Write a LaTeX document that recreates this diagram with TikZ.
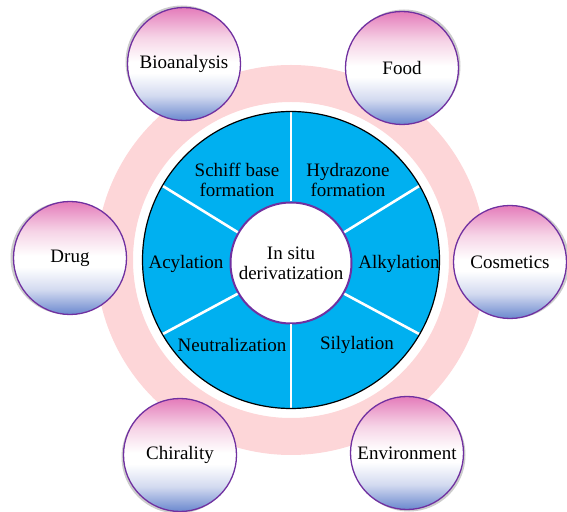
\documentclass[tikz,border=0pt]{standalone}
\usepackage{fontspec}
\setmainfont{Liberation Serif}
\usetikzlibrary{positioning, shadows}
\definecolor{ringpink}{HTML}{FDD6D8}
\definecolor{wheelblue}{HTML}{00B0F0}
\definecolor{rimpurple}{HTML}{7030A0}
\definecolor{toppink}{HTML}{E47CBA}
\definecolor{palepink}{HTML}{F6D3E6}
\definecolor{paleblue}{HTML}{D3DAF0}
\definecolor{botblue}{HTML}{6A88CE}
\pgfdeclareverticalshading{appfade}{100bp}{color(0bp)=(botblue); color(25bp)=(botblue);
	color(36bp)=(paleblue); color(46bp)=(white); color(51bp)=(white); color(62bp)=(palepink);
	color(75bp)=(toppink); color(100bp)=(toppink)}

\begin{document}
\begin{tikzpicture}[x=1pt, y=1pt, font=\fontsize{19}{20}\selectfont,
	app/.style={circle, draw=rimpurple, line width=1.3pt, minimum size=113pt,
	shading=appfade, inner sep=0pt},
	lbl/.style={align=center, inner sep=0pt},
	spoke/.style={white, line width=2.6pt}]
\useasboundingbox (0, 0) rectangle (567, 511);
\coordinate (c) at (291, 251);
% pink ring
\fill[ringpink, even odd rule] (c) circle (195) (c) circle (158);
\node[circle, fill=wheelblue, minimum size=297pt] (wheel) at (c) {};
\node[circle, fill=white, draw=rimpurple, line width=2pt, minimum size=121pt] (hub) at (291, 248) {};
\draw[spoke] (hub.30) to (wheel.30);
\draw[spoke] (hub.90) to (wheel.90);
\draw[spoke] (hub.150) to (wheel.150);
\draw[spoke] (hub.210) to (wheel.210);
\draw[spoke] (hub.270) to (wheel.270);
\draw[spoke] (hub.330) to (wheel.330);
\node[circle, draw=black, line width=1.2pt, minimum size=297pt] (rim) at (c) {};
\node[lbl] (insitu) at (hub) {In situ\\derivatization};
% reactions
\node[lbl] (schiff) at (237, 331) {Schiff base\\formation};
\node[lbl] (hydra) at (348, 331) {Hydrazone\\formation};
\node[lbl] (acyl) at (186, 247) {Acylation};
\node[lbl] (alkyl) at (399, 247) {Alkylation};
\node[lbl] (neutral) at (232, 166) {Neutralization};
\node[lbl] (silyl) at (357, 166) {Silylation};
% applications
\node[app, drop shadow={shadow xshift=-2pt, shadow yshift=2pt, fill=gray!80}] (bio) at (184, 447) {Bioanalysis};
\node[app, drop shadow={shadow xshift=2pt, shadow yshift=2pt, fill=gray!80}] (food) at (402, 443) {Food};
\node[app, drop shadow={shadow xshift=-3pt, shadow yshift=0pt, fill=gray!80}] (drug) at (70, 253) {Drug};
\node[app, drop shadow={shadow xshift=3pt, shadow yshift=0pt, fill=gray!80}] (cosm) at (510, 249) {Cosmetics};
\node[app, drop shadow={shadow xshift=-2pt, shadow yshift=-2pt, fill=gray!80}] (chiral) at (180, 56) {Chirality};
\node[app, drop shadow={shadow xshift=2pt, shadow yshift=-2pt, fill=gray!80}] (env) at (407, 58) {Environment};
\end{tikzpicture}
\end{document}
